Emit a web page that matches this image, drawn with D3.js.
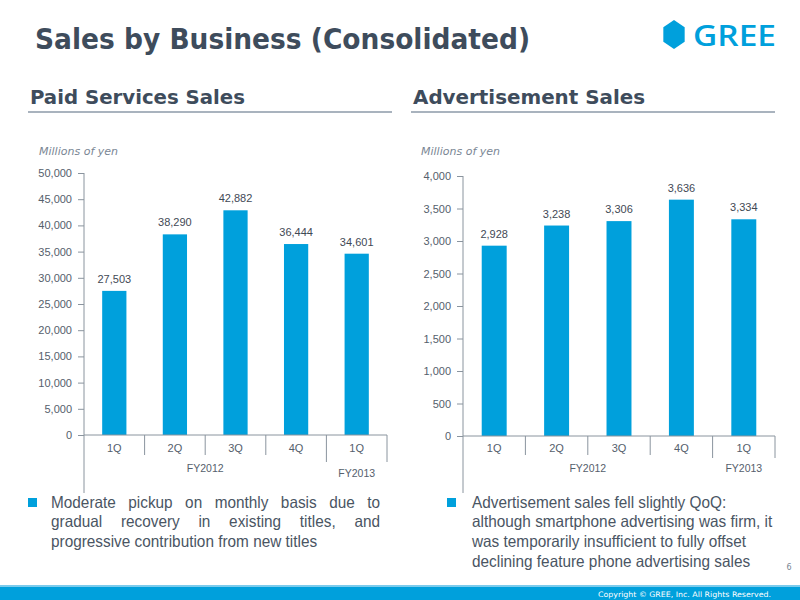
<!DOCTYPE html>
<html><head><meta charset="utf-8">
<script src="https://cdn.jsdelivr.net/npm/d3@7"></script>
<style>body{margin:0;background:#fff}svg{display:block}</style>
</head><body><svg id="c" width="800" height="600"></svg>
<script>
// ---- data ----
const quarters = ["1Q", "2Q", "3Q", "4Q", "1Q"];
const fiscalYears = ["FY2012", "FY2013"];
const fiscalYearSpans = [4, 1];
const paidValues = [27503, 38290, 42882, 36444, 34601];
const adValues = [2928, 3238, 3306, 3636, 3334];
const paidTicks = [0, 5000, 10000, 15000, 20000, 25000, 30000, 35000, 40000, 45000, 50000];
const adTicks = [0, 500, 1000, 1500, 2000, 2500, 3000, 3500, 4000];
const pageTitle = "Sales by Business (Consolidated)";
const chartTitles = ["Paid Services Sales", "Advertisement Sales"];
const unitLabel = "Millions of yen";
const paidComment = ["Moderate pickup on monthly basis due to", "gradual recovery in existing titles, and", "progressive contribution from new titles"];
const adComment = ["Advertisement sales fell slightly QoQ:", "although smartphone advertising was firm, it", "was temporarily insufficient to fully offset", "declining feature phone advertising sales"];
const copyright = "Copyright \u00A9 GREE, Inc. All Rights Reserved.";

// ---- styles ----
const BLUE = "#00a0dc";
const SLATE = "#3e4c5c";
const AXIS = "#8a949e";
const svg = d3.select("#c");
const fmt = d3.format(",");

// header
svg.append("text").attr("x", 35).attr("y", 49).text(pageTitle)
  .attr("font-family", "'DejaVu Sans Condensed','DejaVu Sans',sans-serif").attr("font-stretch", "condensed")
  .attr("font-weight", "bold").attr("font-size", 28).attr("fill", SLATE)
  .attr("textLength", 495).attr("lengthAdjust", "spacingAndGlyphs");

// logo
const hx = 674, hy = 34.5, hr = 14.5;
svg.append("path").attr("fill", BLUE)
  .attr("d", d3.range(6).map((i, k) => {
    const a = Math.PI / 3 * i - Math.PI / 2;
    return (k ? "L" : "M") + (hx + hr * Math.cos(a) * 0.85) + "," + (hy + hr * Math.sin(a));
  }).join("") + "Z");
svg.append("text").attr("x", 693).attr("y", 46).text("GREE")
  .attr("font-family", "'Open Sans','DejaVu Sans',sans-serif").attr("font-size", 29.5).attr("font-weight", 600)
  .attr("fill", BLUE).attr("textLength", 83).attr("lengthAdjust", "spacingAndGlyphs");

// charts
const charts = [
  { title: chartTitles[0], values: paidValues, ticks: paidTicks, x0: 84, x1: 387, y0: 435, yTop: 173, max: 50000,
    titleX: 30, titleW: 215, ruleX0: 28, ruleX1: 392, unitX: 39, fyY: [468, 473], groupTick: 462, axisBottom: 493,
    comment: paidComment, justify: true, bulletX: 28, textX: 51, textW: 329, lineH: 19.5 },
  { title: chartTitles[1], values: adValues, ticks: adTicks, x0: 463, x1: 775, y0: 436, yTop: 176, max: 4000,
    titleX: 413, titleW: 232, ruleX0: 411, ruleX1: 775, unitX: 421, fyY: [468, 468], groupTick: 458, axisBottom: 493,
    comment: adComment, justify: false, bulletX: 447, textX: 472, textW: 303, lineH: 19.7 }
];

charts.forEach(c => {
  const g = svg.append("g");
  g.append("text").attr("x", c.titleX).attr("y", 104).text(c.title)
    .attr("font-family", "'DejaVu Sans Condensed','DejaVu Sans',sans-serif").attr("font-stretch", "condensed")
    .attr("font-weight", "bold").attr("font-size", 20).attr("fill", SLATE)
    .attr("textLength", c.titleW).attr("lengthAdjust", "spacingAndGlyphs");
  g.append("line").attr("x1", c.ruleX0).attr("x2", c.ruleX1).attr("y1", 112).attr("y2", 112)
    .attr("stroke", "#8d9aa8").attr("stroke-width", 1.5);
  g.append("text").attr("x", c.unitX).attr("y", 155).text(unitLabel)
    .attr("font-family", "'DejaVu Sans',sans-serif").attr("font-style", "italic")
    .attr("font-size", 10).attr("fill", "#7a8694")
    .attr("textLength", 79).attr("lengthAdjust", "spacingAndGlyphs");

  const y = d3.scaleLinear().domain([0, c.max]).range([c.y0, c.yTop]);
  const x = d3.scaleBand().domain(d3.range(c.values.length)).range([c.x0, c.x1])
    .paddingInner(0.6).paddingOuter(0.3);
  const step = x.step();

  // y axis
  const ya = g.append("g").attr("transform", `translate(${c.x0},0)`)
    .call(d3.axisLeft(y).tickValues(c.ticks).tickFormat(fmt).tickSize(6).tickSizeOuter(0).tickPadding(6));
  ya.select(".domain").remove();
  ya.selectAll(".tick line").attr("stroke", AXIS);
  ya.selectAll(".tick text").attr("font-family", "'Liberation Sans',Arial,sans-serif")
    .attr("font-size", 11).attr("fill", "#55606c");
  g.append("line").attr("x1", c.x0).attr("x2", c.x0).attr("y1", c.yTop).attr("y2", c.axisBottom)
    .attr("stroke", AXIS);

  // bars
  g.selectAll("rect.bar").data(c.values).join("rect").attr("class", "bar")
    .attr("x", (d, i) => x(i)).attr("width", x.bandwidth())
    .attr("y", d => y(d)).attr("height", d => y(0) - y(d)).attr("fill", BLUE);
  g.selectAll("text.val").data(c.values).join("text").attr("class", "val")
    .attr("x", (d, i) => x(i) + x.bandwidth() / 2).attr("y", d => y(d) - 8)
    .attr("text-anchor", "middle").text(fmt)
    .attr("font-family", "'Liberation Sans',Arial,sans-serif").attr("font-size", 11).attr("fill", "#3f4955");

  // x axis
  g.append("line").attr("x1", c.x0).attr("x2", c.x1).attr("y1", y(0)).attr("y2", y(0)).attr("stroke", AXIS);
  let cum = 0;
  const groupEnds = fiscalYearSpans.map(s => (cum += s));
  d3.range(1, c.values.length + 1).forEach(i => {
    const xx = c.x0 + step * i;
    const big = groupEnds.includes(i);
    g.append("line").attr("x1", xx).attr("x2", xx).attr("y1", y(0)).attr("y2", big ? c.groupTick : 455)
      .attr("stroke", AXIS);
  });
  g.selectAll("text.q").data(quarters).join("text").attr("class", "q")
    .attr("x", (d, i) => x(i) + x.bandwidth() / 2).attr("y", 452).attr("text-anchor", "middle").text(d => d)
    .attr("font-family", "'Liberation Sans',Arial,sans-serif").attr("font-size", 11).attr("fill", "#55606c");
  let start = 0;
  fiscalYears.forEach((fy, k) => {
    const span = fiscalYearSpans[k];
    const cx = c.x0 + step * (start + span / 2);
    g.append("text").attr("x", cx).attr("y", c.fyY[k] + 4).attr("text-anchor", "middle").text(fy)
      .attr("font-family", "'Liberation Sans',Arial,sans-serif").attr("font-size", 10.5).attr("fill", "#55606c");
    start += span;
  });

  // comment
  g.append("rect").attr("x", c.bulletX).attr("y", 498).attr("width", 9).attr("height", 9).attr("fill", BLUE);
  const squeeze = 0.93;
  c.comment.forEach((line, li) => {
    const by = 507.5 + li * c.lineH;
    const t = g.append("text").attr("x", c.textX).attr("y", by)
      .attr("font-family", "'Liberation Sans',Arial,sans-serif")
      .attr("font-size", 16.5).attr("fill", "#4a5563");
    if (c.justify && li < c.comment.length - 1) {
      const words = line.split(" ");
      const spans = words.map(w => t.append("tspan").text(w));
      const widths = spans.map(s => s.node().getComputedTextLength());
      widths.forEach((w, k) => spans[k].attr("textLength", w * squeeze).attr("lengthAdjust", "spacingAndGlyphs"));
      const gap = (c.textW - d3.sum(widths) * squeeze) / (words.length - 1);
      let px = c.textX;
      spans.forEach((s, k) => { s.attr("x", px); px += widths[k] * squeeze + gap; });
    } else {
      t.text(line);
      const w = t.node().getComputedTextLength();
      t.attr("textLength", w * squeeze).attr("lengthAdjust", "spacingAndGlyphs");
    }
  });
});

// page number
svg.append("text").attr("x", 789).attr("y", 570).text("6").attr("text-anchor", "middle")
  .attr("font-family", "'DejaVu Sans',sans-serif").attr("font-size", 8).attr("fill", "#7a8694");

// footer
svg.append("rect").attr("x", 0).attr("y", 585).attr("width", 800).attr("height", 2).attr("fill", "#7ccbec");
svg.append("rect").attr("x", 0).attr("y", 587).attr("width", 800).attr("height", 13).attr("fill", BLUE);
svg.append("text").attr("x", 771).attr("y", 597).attr("text-anchor", "end").text(copyright)
  .attr("font-family", "'DejaVu Sans',sans-serif").attr("font-size", 7.5).attr("fill", "#ffffff")
  .attr("textLength", 173).attr("lengthAdjust", "spacingAndGlyphs");
</script></body></html>
